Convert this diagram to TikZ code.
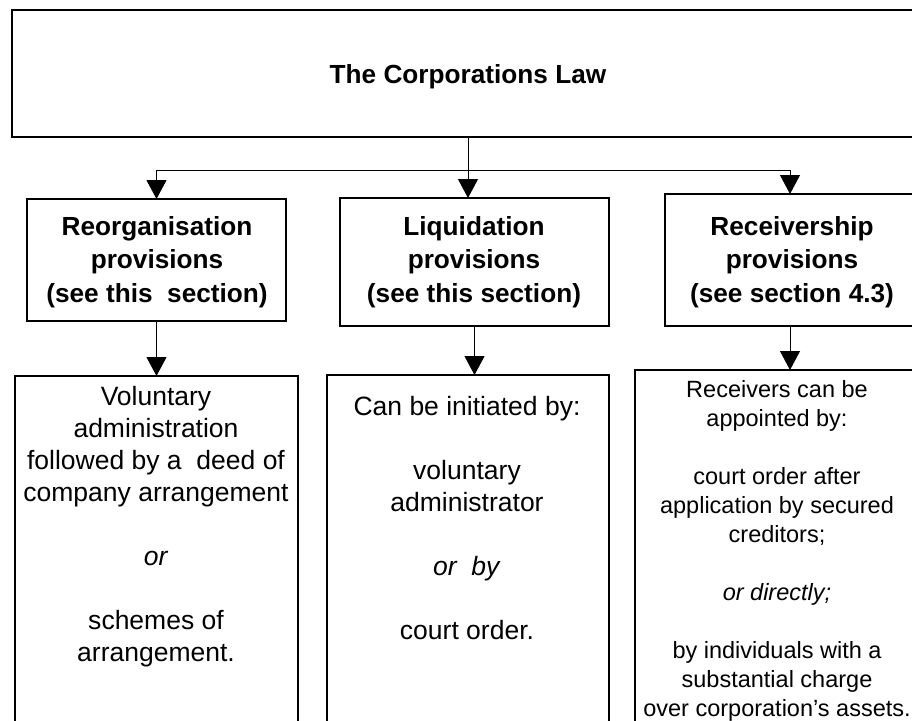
\documentclass[tikz,border=0pt]{standalone}
\usepackage{fontspec}
\setmainfont{Liberation Sans}
\usetikzlibrary{arrows.meta}
\begin{document}
\begin{tikzpicture}[x=1pt,y=-1pt,
  boxstyle/.style={draw=black,line width=1.3pt,inner sep=0pt,outer sep=0pt,fill=none},
  headtext/.style={align=center,inner sep=0pt,font=\fontsize{26.2}{33.5}\selectfont\bfseries},
  bodytext/.style={align=center,inner sep=0pt,font=\fontsize{26.5}{32}\selectfont},
  smalltext/.style={align=center,inner sep=0pt,font=\fontsize{23.5}{29}\selectfont},
  conn/.style={draw=black,line width=1pt},
  arr/.style={conn,-{Triangle[width=20pt,length=19pt]}}]
\useasboundingbox (0,0) rectangle (912,720);
\clip (0,0) rectangle (912,720);
\fill[white] (0,0) rectangle (912,720);
% boxes
\node[boxstyle,minimum width=912pt,minimum height=127pt] (top) at (468,73.5) {};
\node[boxstyle,minimum width=259pt,minimum height=122pt] (box1) at (156.5,260) {};
\node[boxstyle,minimum width=269pt,minimum height=128pt] (box2) at (474.5,262) {};
\node[boxstyle,minimum width=250pt,minimum height=132pt] (box3) at (790,260) {};
\node[boxstyle,minimum width=283pt,minimum height=364pt] (low1) at (156.5,558) {};
\node[boxstyle,minimum width=282pt,minimum height=365pt] (low2) at (468,557.5) {};
\node[boxstyle,minimum width=284pt,minimum height=370pt] (low3) at (777,555) {};
% texts
\node[headtext,font=\fontsize{26.2}{33.5}\selectfont\bfseries] (title) at (468,77) {The Corporations Law};
\node[headtext] (h1) at (157,262) {Reorganisation\\provisions\\(see this~~section)};
\node[headtext] (h2) at (474,262) {Liquidation\\provisions\\(see this section)};
\node[headtext] (h3) at (792,262) {Receivership\\provisions\\(see section 4.3)};
\node[bodytext] (t1) at (156,526.5) {Voluntary\\administration\\followed by a~~deed of\\company arrangement\\[32pt]\textit{or}\\[32pt]schemes of\\arrangement.};
\node[bodytext] (t2) at (467,518.5) {Can be initiated by:\\[32pt]voluntary\\administrator\\[32pt]\textit{or~~by}\\[32pt]court order.};
\node[smalltext] (t3) at (777,551) {Receivers can be\\appointed by:\\[29pt]court order after\\application by secured\\creditors;\\[29pt]\textit{or directly;}\\[29pt]by individuals with a\\substantial charge\\over corporation’s assets.};
% connectors
\coordinate (split) at (top.south |- 0,170);
\draw[conn] (top.south) -- (split);
\draw[arr] (split) -| (box1.north);
\draw[arr] (split) -- (split |- box2.north);
\draw[arr] (split) -| (box3.north);
\draw[arr] (box1.south) -- (box1.south |- low1.north);
\draw[arr] (box2.south) -- (box2.south |- low2.north);
\draw[arr] (box3.south) -- (box3.south |- low3.north);
\end{tikzpicture}
\end{document}
